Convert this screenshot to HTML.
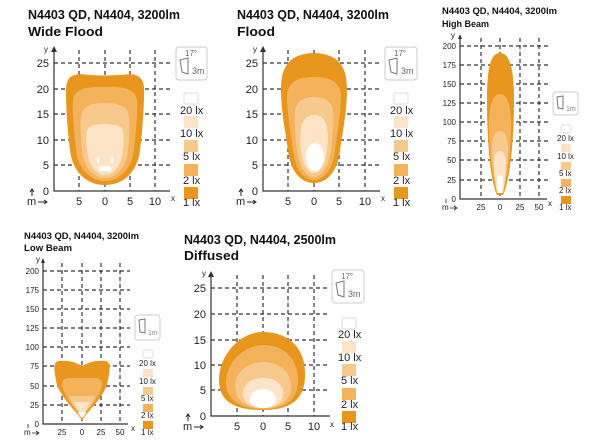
<!DOCTYPE html>
<html><head><meta charset="utf-8"><style>
html,body{margin:0;padding:0;background:#fff;}
svg{display:block;font-family:"Liberation Sans",Arial,sans-serif;}
.t{font-weight:bold;fill:#111;}
.g{stroke:#333;stroke-width:1.2;stroke-dasharray:4,3;fill:none;}
.ax{stroke:#333;stroke-width:1.2;fill:none;}
.l{fill:#222;font-size:11px;}
.s{fill:#222;font-size:8px;}
.ic{fill:#fff;stroke:#ccc;stroke-width:1;}
.c1{fill:#E8961E}.c2{fill:#F4B25A}.c3{fill:#F8C98C}.c4{fill:#FDE4C6}
</style></head><body>
<svg width="600" height="446" viewBox="0 0 600 446">
<!-- PANEL 1 Wide Flood -->
<text class="t" x="28" y="19" font-size="13" textLength="152" lengthAdjust="spacingAndGlyphs">N4403 QD, N4404, 3200lm</text>
<text class="t" x="28" y="36" font-size="13" textLength="75" lengthAdjust="spacingAndGlyphs">Wide Flood</text>
<g class="g"><path d="M79,50V191M105,50V191M130,50V191M155,50V191M54,63H170M54,89H170M54,114H170M54,140H170M54,165H170"/></g>
<path class="c1" d="M105,185 C85,185 72,170 70,150 C68,135 66,110 66,95 C66,80 68,75 80,74 C95,76 115,76 130,74 C142,75 145,82 144,95 C144,110 142,135 140,150 C138,170 125,185 105,185Z"/>
<path class="c2" d="M105,181 C90,181 78,168 76,150 C74,130 72,110 73,100 C74,90 85,86 105,87 C125,86 136,90 137,100 C138,110 136,130 134,150 C132,168 120,181 105,181Z"/>
<path class="c3" d="M105,178 C92,178 83,165 82,150 C80,130 80,120 82,112 C85,105 95,103 105,103 C115,103 125,105 128,112 C130,120 130,130 128,150 C127,165 118,178 105,178Z"/>
<path class="c4" d="M105,175 C95,175 88,163 87,150 C86,140 86,132 88,128 C92,125 98,124 105,124 C112,124 118,125 122,128 C124,132 124,140 123,150 C122,163 115,175 105,175Z"/>
<rect x="99" y="166" width="12" height="5" fill="#fff"/><rect x="97" y="157" width="2" height="6" fill="#fff"/><rect x="111" y="157" width="2" height="6" fill="#fff"/>
<g class="ax"><path d="M54,48V191H170"/></g><path d="M51,52L54,46L57,52Z" fill="#333"/>
<g class="l" text-anchor="end"><text x="49" y="67">25</text><text x="49" y="93">20</text><text x="49" y="118">15</text><text x="49" y="144">10</text><text x="49" y="169">5</text><text x="49" y="195">0</text></g>
<g class="l" text-anchor="middle"><text x="79" y="205">5</text><text x="105" y="205">0</text><text x="130" y="205">5</text><text x="155" y="205">10</text></g>
<text class="s" x="44" y="52">y</text><text class="s" x="171" y="201">x</text>
<text class="l" x="27" y="205">m</text><path d="M38,202H46M44,200L47,202L44,204M32,196V190M30,192L32,189L34,192" stroke="#222" fill="none"/>
<rect class="ic" x="176" y="47" width="31" height="33" rx="3"/><text x="185" y="56" font-size="8" fill="#666">17°</text><path d="M180,60L188,58V74L182,72Z" fill="none" stroke="#777"/><text x="192" y="74" font-size="9" fill="#666">3m</text>
<rect x="184" y="93" width="14" height="11" rx="2" fill="#fff" stroke="#ddd"/>
<text class="l" x="180" y="114">20 lx</text><rect class="c4" x="184" y="116" width="14" height="12"/>
<text class="l" x="180" y="137">10 lx</text><rect class="c3" x="184" y="140" width="14" height="12"/>
<text class="l" x="183" y="160">5 lx</text><rect class="c2" x="184" y="164" width="14" height="12"/>
<text class="l" x="183" y="184">2 lx</text><rect class="c1" x="184" y="187" width="14" height="12"/>
<text class="l" x="183" y="206">1 lx</text>

<!-- PANEL 2 Flood -->
<text class="t" x="237" y="19" font-size="13" textLength="152" lengthAdjust="spacingAndGlyphs">N4403 QD, N4404, 3200lm</text>
<text class="t" x="237" y="36" font-size="13" textLength="38" lengthAdjust="spacingAndGlyphs">Flood</text>
<g class="g"><path d="M288,50V191M314,50V191M339,50V191M365,50V191M263,63H380M263,89H380M263,114H380M263,140H380M263,165H380"/></g>
<path class="c1" d="M314,183 C300,183 290,170 288,150 C285,130 281,110 281,90 C281,65 290,54 314,53 C338,54 347,65 347,90 C347,110 343,130 340,150 C338,170 328,183 314,183Z"/>
<path class="c2" d="M314,180 C303,180 295,168 293,150 C290,130 287,110 287,95 C288,82 298,77 314,77 C330,77 340,82 341,95 C341,110 338,130 335,150 C333,168 325,180 314,180Z"/>
<path class="c3" d="M314,177 C305,177 299,165 297,150 C295,135 294,120 295,110 C297,100 305,97 314,97 C323,97 331,100 333,110 C334,120 333,135 331,150 C329,165 323,177 314,177Z"/>
<path class="c4" d="M314,173 C307,173 302,163 301,150 C300,140 300,130 302,124 C305,117 309,115 314,115 C319,115 324,117 326,124 C328,130 328,140 327,150 C326,163 321,173 314,173Z"/>
<ellipse cx="315" cy="157" rx="9" ry="14" fill="#fff"/>
<g class="ax"><path d="M263,48V191H380"/></g><path d="M260,52L263,46L266,52Z" fill="#333"/>
<g class="l" text-anchor="end"><text x="258" y="67">25</text><text x="258" y="93">20</text><text x="258" y="118">15</text><text x="258" y="144">10</text><text x="258" y="169">5</text><text x="258" y="195">0</text></g>
<g class="l" text-anchor="middle"><text x="288" y="205">5</text><text x="314" y="205">0</text><text x="339" y="205">5</text><text x="365" y="205">10</text></g>
<text class="s" x="253" y="52">y</text><text class="s" x="381" y="201">x</text>
<text class="l" x="236" y="205">m</text><path d="M247,202H255M253,200L256,202L253,204M241,196V190M239,192L241,189L243,192" stroke="#222" fill="none"/>
<rect class="ic" x="385" y="47" width="32" height="33" rx="3"/><text x="394" y="56" font-size="8" fill="#666">17°</text><path d="M389,60L397,58V74L391,72Z" fill="none" stroke="#777"/><text x="401" y="74" font-size="9" fill="#666">3m</text>
<rect x="394" y="93" width="14" height="11" rx="2" fill="#fff" stroke="#ddd"/>
<text class="l" x="390" y="114">20 lx</text><rect class="c4" x="394" y="116" width="14" height="12"/>
<text class="l" x="390" y="137">10 lx</text><rect class="c3" x="394" y="140" width="14" height="12"/>
<text class="l" x="393" y="160">5 lx</text><rect class="c2" x="394" y="164" width="14" height="12"/>
<text class="l" x="393" y="184">2 lx</text><rect class="c1" x="394" y="187" width="14" height="12"/>
<text class="l" x="393" y="206">1 lx</text>

<!-- PANEL 3 High Beam -->
<text class="t" x="442" y="14" font-size="9.5" textLength="115" lengthAdjust="spacingAndGlyphs">N4403 QD, N4404, 3200lm</text>
<text class="t" x="442" y="27" font-size="9.5" textLength="47" lengthAdjust="spacingAndGlyphs">High Beam</text>
<g class="g" stroke-width="1"><path d="M481,38V199M500,38V199M520,38V199M539,38V199M460,46H548M460,65H548M460,84H548M460,103H548M460,122H548M460,141H548M460,160H548M460,180H548"/></g>
<path class="c1" d="M497,195 C490,180 487,140 487,100 C487,70 490,53 500,53 C510,53 514,70 514,100 C514,140 510,180 503,195Z"/>
<path class="c2" d="M497,193 C492,175 489,150 489,125 C489,105 493,94 500,94 C507,94 511,105 511,125 C511,150 508,175 503,193Z"/>
<path class="c3" d="M497,193 C494,178 492,160 492,148 C492,137 495,131 500,131 C505,131 508,137 508,148 C508,160 506,178 503,193Z"/>
<path class="c4" d="M497,193 C495,180 494,170 494,162 C494,155 497,151 500,151 C503,151 506,155 506,162 C506,170 505,180 503,193Z"/>
<path d="M498,193 C497,185 497,180 497,178 C497,176 499,175 500,175 C501,175 503,176 503,178 C503,180 503,185 502,193Z" fill="#fff"/>
<g class="ax"><path d="M460,36V199H547"/></g><path d="M458,39L460,34L462,39Z" fill="#333"/>
<g class="s" text-anchor="end"><text x="456" y="49">200</text><text x="456" y="68">175</text><text x="456" y="87">150</text><text x="456" y="106">125</text><text x="456" y="125">100</text><text x="456" y="144">75</text><text x="456" y="163">50</text><text x="456" y="183">25</text><text x="456" y="202">0</text></g>
<g class="s" text-anchor="middle"><text x="481" y="210">25</text><text x="500" y="210">0</text><text x="520" y="210">25</text><text x="539" y="210">50</text></g>
<text class="s" x="451" y="38" font-size="6">y</text><text class="s" x="548" y="206" font-size="6">x</text>
<text class="s" x="442" y="210">m</text><path d="M450,208H456M454,206L457,208L454,210M446,203V199" stroke="#222" fill="none" stroke-width=".8"/>
<rect class="ic" x="553" y="92" width="25" height="23" rx="3"/><path d="M557,97L563,96V109L558,108Z" fill="none" stroke="#777"/><text x="566" y="111" font-size="7" fill="#888">1m</text>
<rect x="561" y="125" width="10" height="8" rx="2" fill="#fff" stroke="#ddd"/>
<text class="s" x="557" y="141">20 lx</text><rect class="c4" x="561" y="144" width="10" height="8"/>
<text class="s" x="557" y="159">10 lx</text><rect class="c3" x="561" y="162" width="10" height="8"/>
<text class="s" x="559" y="176">5 lx</text><rect class="c2" x="561" y="179" width="10" height="8"/>
<text class="s" x="559" y="193">2 lx</text><rect class="c1" x="561" y="196" width="10" height="8"/>
<text class="s" x="559" y="210">1 lx</text>

<!-- PANEL 4 Low Beam -->
<text class="t" x="24" y="239" font-size="9.5" textLength="115" lengthAdjust="spacingAndGlyphs">N4403 QD, N4404, 3200lm</text>
<text class="t" x="24" y="251" font-size="9.5" textLength="48" lengthAdjust="spacingAndGlyphs">Low Beam</text>
<g class="g" stroke-width="1"><path d="M62,263V424M82,263V424M101,263V424M120,263V424M43,271H130M43,290H130M43,309H130M43,328H130M43,347H130M43,366H130M43,386H130M43,405H130"/></g>
<path class="c1" d="M82,420 C75,410 58,395 56,380 C54,370 53,363 58,361 C68,360 75,362 82,366 C89,362 96,360 106,361 C111,363 110,370 108,380 C106,395 89,410 82,420Z"/>
<path class="c2" d="M82,418 C76,410 64,397 62,385 C62,380 64,378 70,378 L94,378 C100,378 102,380 102,385 C100,397 88,410 82,418Z"/>
<path class="c3" d="M82,416 C77,410 70,402 69,396 L95,396 C94,402 87,410 82,416Z"/>
<path class="c4" d="M82,415 C78,410 75,405 74,402 L90,402 C89,405 86,410 82,415Z"/>
<path d="M82,418 C80,416 78,414 78,412 L86,412 C86,414 84,416 82,418Z" fill="#fff"/>
<g class="ax"><path d="M43,260V424H128"/></g><path d="M41,263L43,258L45,263Z" fill="#333"/>
<g class="s" text-anchor="end"><text x="39" y="274">200</text><text x="39" y="293">175</text><text x="39" y="312">150</text><text x="39" y="331">125</text><text x="39" y="350">100</text><text x="39" y="369">75</text><text x="39" y="389">50</text><text x="39" y="408">25</text><text x="39" y="427">0</text></g>
<g class="s" text-anchor="middle"><text x="62" y="435">25</text><text x="82" y="435">0</text><text x="101" y="435">25</text><text x="120" y="435">50</text></g>
<text class="s" x="36" y="262" font-size="6">y</text><text class="s" x="131" y="431" font-size="6">x</text>
<text class="s" x="24" y="435">m</text><path d="M32,433H38M36,431L39,433L36,435M28,428V424" stroke="#222" fill="none" stroke-width=".8"/>
<rect class="ic" x="135" y="315" width="25" height="25" rx="3"/><path d="M139,320L145,319V333L140,332Z" fill="none" stroke="#777"/><text x="148" y="335" font-size="7" fill="#888">1m</text>
<rect x="143" y="350" width="10" height="8" rx="2" fill="#fff" stroke="#ddd"/>
<text class="s" x="139" y="366">20 lx</text><rect class="c4" x="143" y="369" width="10" height="8"/>
<text class="s" x="139" y="384">10 lx</text><rect class="c3" x="143" y="387" width="10" height="8"/>
<text class="s" x="141" y="401">5 lx</text><rect class="c2" x="143" y="404" width="10" height="8"/>
<text class="s" x="141" y="418">2 lx</text><rect class="c1" x="143" y="421" width="10" height="8"/>
<text class="s" x="141" y="435">1 lx</text>

<!-- PANEL 5 Diffused -->
<text class="t" x="184" y="244" font-size="13" textLength="152" lengthAdjust="spacingAndGlyphs">N4403 QD, N4404, 2500lm</text>
<text class="t" x="184" y="260" font-size="13" textLength="55" lengthAdjust="spacingAndGlyphs">Diffused</text>
<g class="g"><path d="M237,275V416M263,275V416M288,275V416M314,275V416M211,288H330M211,314H330M211,340H330M211,365H330M211,390H330"/></g>
<path class="c1" d="M263,410 C240,410 219,405 219,380 C219,355 240,332 263,332 C290,332 306,350 305,375 C305,400 290,410 263,410Z"/>
<path class="c2" d="M263,409 C245,409 226,403 226,382 C226,362 245,345 263,345 C285,345 298,360 298,380 C298,402 283,409 263,409Z"/>
<path class="c3" d="M263,408 C248,408 235,402 235,386 C235,372 248,362 263,362 C279,362 291,372 291,386 C291,402 279,408 263,408Z"/>
<path class="c4" d="M263,408 C252,408 243,403 243,393 C243,384 252,378 263,378 C275,378 283,384 283,393 C283,403 275,408 263,408Z"/>
<path d="M263,408 C256,408 250,405 250,399 C250,393 256,389 263,389 C270,389 276,393 276,399 C276,405 270,408 263,408Z" fill="#fff"/>
<g class="ax"><path d="M211,273V416H330"/></g><path d="M208,277L211,271L214,277Z" fill="#333"/>
<g class="l" text-anchor="end"><text x="206" y="292">25</text><text x="206" y="318">20</text><text x="206" y="344">15</text><text x="206" y="369">10</text><text x="206" y="394">5</text><text x="206" y="420">0</text></g>
<g class="l" text-anchor="middle"><text x="237" y="430">5</text><text x="263" y="430">0</text><text x="288" y="430">5</text><text x="314" y="430">10</text></g>
<text class="s" x="202" y="276">y</text><text class="s" x="330" y="427">x</text>
<text class="l" x="183" y="430">m</text><path d="M194,427H202M200,425L203,427L200,429M188,421V415M186,417L188,414L190,417" stroke="#222" fill="none"/>
<rect class="ic" x="332" y="270" width="32" height="33" rx="3"/><text x="341" y="279" font-size="8" fill="#666">17°</text><path d="M336,283L344,281V297L338,295Z" fill="none" stroke="#777"/><text x="348" y="297" font-size="9" fill="#666">3m</text>
<rect x="342" y="318" width="14" height="11" rx="2" fill="#fff" stroke="#ddd"/>
<text class="l" x="338" y="338">20 lx</text><rect class="c4" x="342" y="341" width="14" height="12"/>
<text class="l" x="338" y="361">10 lx</text><rect class="c3" x="342" y="364" width="14" height="12"/>
<text class="l" x="341" y="384">5 lx</text><rect class="c2" x="342" y="388" width="14" height="12"/>
<text class="l" x="341" y="408">2 lx</text><rect class="c1" x="342" y="411" width="14" height="12"/>
<text class="l" x="341" y="430">1 lx</text>
</svg>
</body></html>
